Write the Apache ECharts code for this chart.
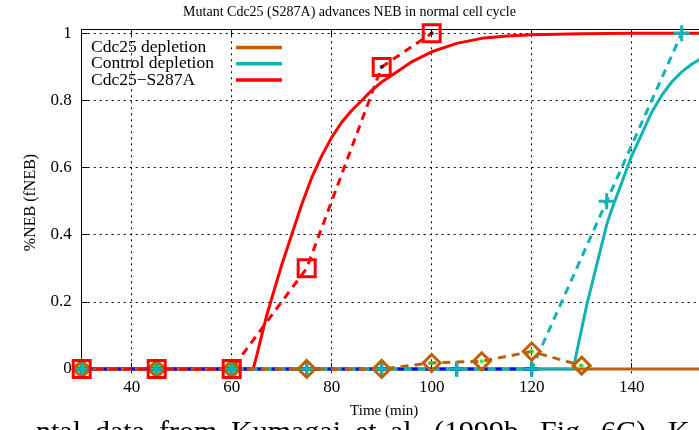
<!DOCTYPE html>
<html><head><meta charset="utf-8">
<script src="https://cdn.jsdelivr.net/npm/echarts@6/dist/echarts.min.js"></script>
<style>html,body{margin:0;padding:0;background:#fff}#c{width:699px;height:430px}</style>
</head><body><div id="c"></div>
<script>
// ---- data ----
const titleText = 'Mutant Cdc25 (S287A) advances NEB in normal cell cycle';
const xTicks = [40, 60, 80, 100, 120, 140];
const yTicks = [0, 0.2, 0.4, 0.6, 0.8, 1];
const legendNames = ['Cdc25 depletion', 'Control depletion', 'Cdc25\u2212S287A'];

// model curves (solid)
const brownModelT = [30, 160];
const brownModelY = [0, 0];
const cyanModelT = [30, 128.3, 129, 130, 131, 132, 133, 134, 135, 136, 137, 138, 140, 142, 144, 146, 148, 150, 152, 154, 156, 160];
const cyanModelY = [0, 0, 0.05, 0.12, 0.19, 0.25, 0.31, 0.37, 0.43, 0.475, 0.515, 0.555, 0.635, 0.70, 0.765, 0.815, 0.855, 0.885, 0.908, 0.926, 0.942, 0.965];
const redModelT = [30, 64.3, 65, 66, 67, 68, 70, 72, 74, 76, 78, 80, 82, 84, 86, 88, 90, 93, 96, 100, 105, 110, 115, 120, 130, 140, 160];
const redModelY = [0, 0, 0.04, 0.10, 0.16, 0.21, 0.31, 0.40, 0.49, 0.57, 0.635, 0.69, 0.735, 0.77, 0.80, 0.83, 0.855, 0.885, 0.915, 0.945, 0.97, 0.985, 0.992, 0.996, 0.999, 1, 1];

// experimental data (dashed)
const controlT = [30, 45, 60, 75, 90, 105, 120, 135, 150];
const controlY = [0, 0, 0, 0, 0, 0, 0, 0.5, 1];
const blueT = [30, 45, 60, 75, 90, 105, 120];
const blueY = [0, 0, 0, 0, 0, 0, 0];
const cdc25T = [30, 45, 60, 75, 90, 100, 110, 120, 130];
const cdc25Y = [0, 0, 0, 0, 0, 0.018, 0.023, 0.052, 0.01];
const s287aT = [30, 45, 60, 75, 90, 100];
const s287aY = [0, 0, 0, 0.3, 0.9, 1];
const greenT = [30, 45, 60, 100, 110, 120, 130];
const greenY = [0, 0, 0, 0.018, 0.023, 0.052, 0.01];
const blackT = [90, 100];
const blackY = [0.9, 1];
// text of the page below the figure (cut by the frame)
const footWords = ['ntal', 'data', 'from', 'Kumagai', 'et', 'al.', '(1999b,', 'Fig.', '6C).', 'K'];
const footWordX = [36, 95, 159, 231, 355, 390, 434, 540, 601, 668];

// ---- styling ----
const FONT = "'Liberation Serif', 'DejaVu Serif', serif";
const RED = '#ff0000', CYAN = '#12b3b3', BROWN = '#c06000', BLUE = '#0000ff', GREEN = '#00ee00';
const zip = (a, b) => a.map((v, i) => [v, b[i]]);
const PLUS = 'path://M0,5L10,5M5,0L5,10';

function model(name, t, y, color) {
  return { name, type: 'line', data: zip(t, y), showSymbol: false, symbol: 'none', color,
    itemStyle: { color }, lineStyle: { color, width: 3 }, silent: true, animation: false, z: 2 };
}
function dataSeries(name, t, y, color, symbol, size, dash, offset) {
  return { name, type: 'line', data: zip(t, y), symbol, symbolSize: size, showSymbol: true, clip: false,
    itemStyle: { color: 'none', borderColor: color, borderWidth: 3 },
    lineStyle: { color, width: 3, type: dash, dashOffset: offset || 0 }, silent: true, animation: false, z: 3 };
}

const chart = echarts.init(document.getElementById('c'), null, { renderer: 'canvas' });
const axisLineStyle = { color: '#000', width: 1 };
chart.setOption({
  backgroundColor: '#fff',
  animation: false,
  title: { text: titleText, left: 'center', top: 5, padding: [0, 0, 0, 80],
    textStyle: { fontFamily: FONT, fontSize: 14, fontWeight: 'normal', color: '#000' } },
  legend: { data: legendNames, orient: 'vertical', left: 91, top: 38.5, align: 'right', icon: 'rect',
    padding: 0, itemWidth: 46, itemHeight: 3.5, itemGap: -1.7, selectedMode: false,
    formatter: '{a|{name}}',
    textStyle: { fontFamily: FONT, fontSize: 17.5, color: '#000', lineHeight: 15.3,
      rich: { a: { width: 140, align: 'left', fontFamily: FONT, fontSize: 17.5, lineHeight: 15.3, color: '#000' } } } },
  grid: { left: 81.7, top: 29.3, width: 650, height: 346.4, show: false, outerBoundsMode: 'none', containLabel: false },
  xAxis: [
    { type: 'value', min: 30, max: 160, position: 'bottom',
      name: 'Time (min)', nameLocation: 'middle', nameGap: 28,
      nameTextStyle: { fontFamily: FONT, fontSize: 15, color: '#000', padding: [0, 45, 0, 0] },
      axisLine: { show: true, lineStyle: axisLineStyle },
      axisTick: { show: true, inside: true, length: 6, customValues: xTicks, lineStyle: axisLineStyle },
      axisLabel: { customValues: xTicks, fontFamily: FONT, fontSize: 17, color: '#000', margin: 3 },
      splitLine: { show: true, lineStyle: { color: '#000', width: 1, type: [2, 4] } } },
    { type: 'value', min: 30, max: 160, position: 'top',
      axisLine: { show: true, lineStyle: axisLineStyle },
      axisTick: { show: true, inside: true, length: 6, customValues: xTicks, lineStyle: axisLineStyle },
      axisLabel: { show: false }, splitLine: { show: false } }
  ],
  yAxis: [
    { type: 'value', min: -0.02, max: 1.012, position: 'left',
      name: '%NEB (fNEB)', nameLocation: 'middle', nameRotate: 90, nameGap: 43,
      nameTextStyle: { fontFamily: FONT, fontSize: 16, color: '#000' },
      axisLine: { show: true, lineStyle: axisLineStyle },
      axisTick: { show: true, inside: true, length: 6, customValues: yTicks, lineStyle: axisLineStyle },
      axisLabel: { customValues: yTicks, fontFamily: FONT, fontSize: 17, color: '#000', margin: 10,
        formatter: v => String(Math.round(v * 10) / 10) },
      splitLine: { show: true, lineStyle: { color: '#000', width: 1, type: [2, 4] } } }
  ],
  graphic: footWords.map((w, i) => ({ type: 'text', x: footWordX[i], y: 418, silent: true,
    style: { text: w, font: "30px 'Liberation Serif'", fill: '#000', verticalAlign: 'top' } })),
  series: [
    model(legendNames[0], brownModelT, brownModelY, BROWN),
    model(legendNames[1], cyanModelT, cyanModelY, CYAN),
    model(legendNames[2], redModelT, redModelY, RED),
    { name: 'green data', type: 'scatter', data: zip(greenT, greenY), clip: false, silent: true,
      symbol: 'circle', symbolSize: (v, p) => (p.dataIndex < 3 ? 11 : 4), itemStyle: { color: GREEN }, z: 3 },
    dataSeries('blue data', blueT, blueY, BLUE, PLUS, 13, [8, 6], 7),
    dataSeries('Control depletion data', controlT, controlY, CYAN, PLUS, 16, [8, 6], 0),
    dataSeries('Cdc25 depletion data', cdc25T, cdc25Y, BROWN, 'diamond', 17, [8, 6], 3),
    dataSeries('Cdc25-S287A data', s287aT, s287aY, RED, 'rect', 17, [8, 6], 0),
    { name: 'black data', type: 'scatter', data: zip(blackT, blackY), clip: false, silent: true,
      symbol: 'circle', symbolSize: 4, itemStyle: { color: '#000' }, z: 4 }
  ]
});
</script></body></html>
